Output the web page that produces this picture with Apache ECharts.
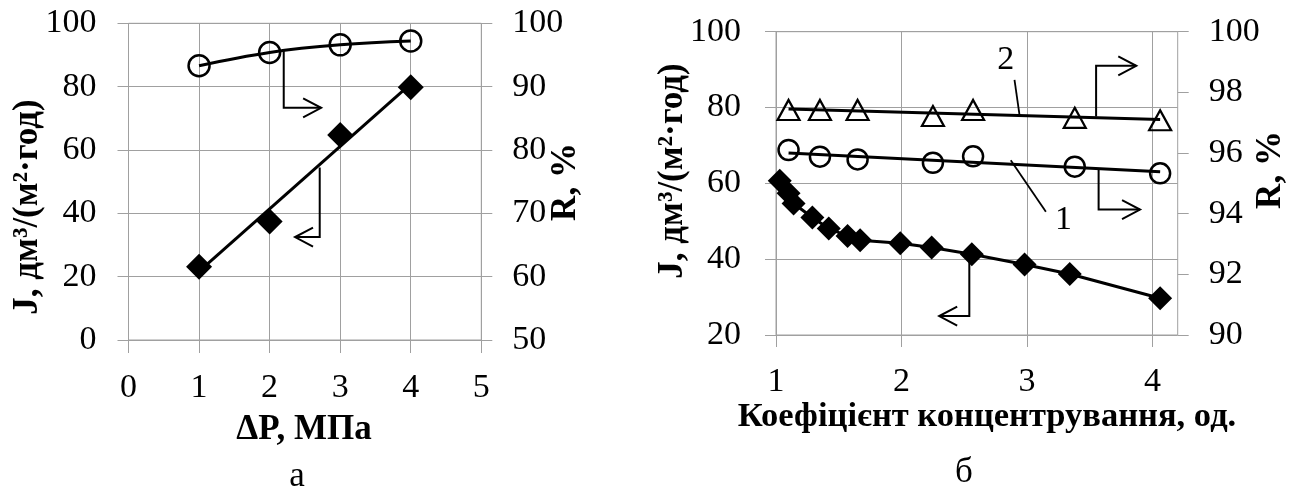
<!DOCTYPE html>
<html>
<head>
<meta charset="utf-8">
<script src="https://cdn.jsdelivr.net/npm/echarts@6/dist/echarts.min.js"></script>
<style>
html,body{margin:0;padding:0;background:#fff;}
#chart{width:1303px;height:488px;}
</style>
</head>
<body>
<div id="chart"></div>
<script>
// ---- data ----
// chart "а": J and R vs ΔP
const dpValues = [1, 2, 3, 4];
const fluxA = [23.1, 37.4, 64.7, 79.8];
const rejA = [93.3, 95.4, 96.6, 97.2];

// chart "б": J vs concentration factor
const kFlux = [1.03, 1.10, 1.14, 1.29, 1.42, 1.57, 1.67, 1.99, 2.24, 2.56, 2.98, 3.34, 4.06];
const fluxB = [60.7, 57.4, 54.7, 51.0, 48.1, 46.1, 45.0, 44.2, 43.1, 41.3, 38.6, 36.1, 29.7];
// R curves 1 (circles) and 2 (triangles)
const kRej = [1.10, 1.35, 1.65, 2.25, 2.57, 3.38, 4.06];
const rej1 = [96.10, 95.88, 95.79, 95.68, 95.89, 95.55, 95.33];
const rej2 = [97.42, 97.42, 97.42, 97.22, 97.42, 97.16, 97.08];

// tick settings
const xTicksB = [1, 2, 3, 4];

// ---- helpers ----
function zip(xs, ys){ return xs.map((x,i)=>[x, ys[i]]); }
function linTrend(xs, ys){
  const n = xs.length;
  const mx = xs.reduce((a,b)=>a+b,0)/n, my = ys.reduce((a,b)=>a+b,0)/n;
  let sxy=0, sxx=0;
  for(let i=0;i<n;i++){ sxy += (xs[i]-mx)*(ys[i]-my); sxx += (xs[i]-mx)*(xs[i]-mx); }
  const b = sxy/sxx, a = my - b*mx;
  const x0 = Math.min(...xs), x1 = Math.max(...xs);
  return [[x0, a+b*x0],[x1, a+b*x1]];
}

const FONT = '"Liberation Serif", "Times New Roman", serif';
const GRID_C = '#a0a0a0';
const TICK_FS = 34;
const TITLE_FS = 35;

const chart = echarts.init(document.getElementById('chart'));

const axisCommon = {
  axisLine: {show:false},
  axisTick: {show:true, inside:false, length:11, lineStyle:{color:GRID_C, width:1}},
  axisLabel: {fontFamily:FONT, fontSize:TICK_FS, color:'#000'},
};

const openCircle = {color:'rgba(0,0,0,0)', borderColor:'#000', borderWidth:2.5, opacity:1};

const option = {
  animation:false,
  backgroundColor:'#fff',
  grid:[
    {left:128.5, top:23.3, width:352.8, height:316.7, show:true, borderColor:GRID_C, borderWidth:1, containLabel:false},
    {left:776, top:31.7, width:401.7, height:303.3, show:true, borderColor:GRID_C, borderWidth:1, containLabel:false}
  ],
  xAxis:[
    Object.assign({}, axisCommon, {type:'value', gridIndex:0, min:0, max:5, interval:1,
      axisTick:{show:true, length:13, lineStyle:{color:GRID_C}},
      axisLabel:{fontFamily:FONT, fontSize:TICK_FS, color:'#000', margin:31},
      splitLine:{show:true, lineStyle:{color:GRID_C, width:1}}}),
    Object.assign({}, axisCommon, {type:'value', gridIndex:1, min:1, max:4.2, interval:1,
      axisTick:{show:true, length:12, customValues:xTicksB, lineStyle:{color:GRID_C}},
      axisLabel:{fontFamily:FONT, fontSize:TICK_FS, color:'#000', margin:30, customValues:xTicksB,
        formatter:v=> (Math.abs(v-Math.round(v))<1e-9 ? String(v) : '')},
      splitLine:{show:true, lineStyle:{color:GRID_C, width:1}}})
  ],
  yAxis:[
    Object.assign({}, axisCommon, {type:'value', gridIndex:0, position:'left', min:0, max:100, interval:20,
      axisLabel:{fontFamily:FONT, fontSize:TICK_FS, color:'#000', margin:32},
      splitLine:{show:true, lineStyle:{color:GRID_C, width:1}}}),
    Object.assign({}, axisCommon, {type:'value', gridIndex:0, position:'right', min:50, max:100, interval:10,
      axisLabel:{fontFamily:FONT, fontSize:TICK_FS, color:'#000', margin:31},
      splitLine:{show:false}}),
    Object.assign({}, axisCommon, {type:'value', gridIndex:1, position:'left', min:20, max:100, interval:20,
      axisLabel:{fontFamily:FONT, fontSize:TICK_FS, color:'#000', margin:35},
      splitLine:{show:true, lineStyle:{color:GRID_C, width:1}}}),
    Object.assign({}, axisCommon, {type:'value', gridIndex:1, position:'right', min:90, max:100, interval:2,
      axisLabel:{fontFamily:FONT, fontSize:TICK_FS, color:'#000', margin:31},
      splitLine:{show:false}})
  ],
  series:[
    // chart а
    {type:'line', xAxisIndex:0, yAxisIndex:0, data:linTrend(dpValues, fluxA), symbol:'none',
      lineStyle:{color:'#000', width:3}, z:2, silent:true},
    {type:'scatter', xAxisIndex:0, yAxisIndex:0, data:zip(dpValues, fluxA), symbol:'diamond', symbolSize:[26,26],
      itemStyle:{color:'#000', opacity:1}, z:3},
    {type:'line', xAxisIndex:0, yAxisIndex:1, data:zip(dpValues, rejA), smooth:0.4, symbol:'circle', symbolSize:21,
      showSymbol:true, itemStyle:openCircle, lineStyle:{color:'#000', width:3}, z:3},
    // chart б
    {type:'line', xAxisIndex:1, yAxisIndex:2, data:zip(kFlux, fluxB), symbol:'diamond', symbolSize:[24,24],
      showSymbol:true, itemStyle:{color:'#000', opacity:1}, lineStyle:{color:'#000', width:3}, z:3},
    {type:'line', xAxisIndex:1, yAxisIndex:3, data:linTrend(kRej, rej1), symbol:'none',
      lineStyle:{color:'#000', width:3}, z:2, silent:true},
    {type:'scatter', xAxisIndex:1, yAxisIndex:3, data:zip(kRej, rej1), symbol:'circle', symbolSize:20,
      itemStyle:openCircle, z:3},
    {type:'line', xAxisIndex:1, yAxisIndex:3, data:linTrend(kRej, rej2), symbol:'none',
      lineStyle:{color:'#000', width:3}, z:2, silent:true},
    {type:'scatter', xAxisIndex:1, yAxisIndex:3, data:zip(kRej, rej2), symbol:'triangle', symbolSize:[22,20],
      itemStyle:{color:'rgba(0,0,0,0)', borderColor:'#000', borderWidth:2.2, opacity:1}, z:3}
  ]
};
chart.setOption(option);

// ---- annotations (paths in data coordinates of each chart) ----
const A = {xAxisIndex:0, yAxisIndex:0};
const B = {xAxisIndex:1, yAxisIndex:2};
const arrows = [
  {c:A, path:[[2.2, 91.6],[2.2, 73.3],[2.73, 73.3]]},
  {c:A, path:[[2.71, 54.5],[2.71, 32.5],[2.36, 32.5]]},
  {c:B, path:[[3.55, 77.6],[3.55, 91.0],[3.87, 91.0]]},
  {c:B, path:[[3.57, 64.0],[3.57, 53.1],[3.90, 53.1]]},
  {c:B, path:[[2.54, 41.1],[2.54, 25.0],[2.30, 25.0]]}
];
const leaders = [
  {c:B, path:[[2.90, 87.3],[2.94, 78.0]]},
  {c:B, path:[[2.87, 66.1],[3.15, 52.5]]}
];
const curveLabels = [
  {c:B, pos:[2.83, 92.5], text:'2'},
  {c:B, pos:[3.29, 50.3], text:'1'}
];
const titles = [
  {text:'J, дм³/(м²·год)', x:28, y:207, rot:true, bold:true},
  {text:'R, %', x:566, y:182, rot:true, bold:true},
  {text:'J, дм³/(м²·год)', x:673, y:171, rot:true, bold:true},
  {text:'R, %', x:1271, y:170, rot:true, bold:true},
  {text:'ΔP, МПа', x:304, y:430, rot:false, bold:true},
  {text:'Коефіцієнт концентрування, од.', x:987, y:417, rot:false, bold:true, size:34.5},
  {text:'а', x:297, y:477, rot:false, bold:false, size:35},
  {text:'б', x:964, y:473, rot:false, bold:false, size:35}
];

const g = [];
function px(c, p){ return chart.convertToPixel(c, p); }
arrows.forEach(a=>{
  const pts = a.path.map(p=>px(a.c, p));
  g.push({type:'polyline', shape:{points:pts}, style:{stroke:'#000', lineWidth:2, fill:null}, z:10});
  const e = pts[pts.length-1], s = pts[pts.length-2];
  const dx = e[0]-s[0], dy = e[1]-s[1], L = Math.hypot(dx,dy);
  const ux = dx/L, uy = dy/L, nx = -uy, ny = ux;
  const len = 18, w = 9.5;
  g.push({type:'polyline', shape:{points:[
    [e[0]-len*ux+w*nx, e[1]-len*uy+w*ny], e, [e[0]-len*ux-w*nx, e[1]-len*uy-w*ny]
  ]}, style:{stroke:'#000', lineWidth:2, fill:null}, z:10});
});
leaders.forEach(l=>{
  const pts = l.path.map(p=>px(l.c, p));
  g.push({type:'polyline', shape:{points:pts}, style:{stroke:'#000', lineWidth:1.8, fill:null}, z:10});
});
curveLabels.forEach(l=>{
  const p = px(l.c, l.pos);
  g.push({type:'text', x:p[0], y:p[1], style:{text:l.text, font:'34px '+FONT, fill:'#000',
    textAlign:'center', textVerticalAlign:'middle'}, z:10});
});
titles.forEach(t=>{
  g.push({type:'text', x:t.x, y:t.y, rotation: t.rot ? Math.PI/2 : 0,
    style:{text:t.text, font:(t.bold?'bold ':'')+(t.size||TITLE_FS)+'px '+FONT, fill:'#000',
      textAlign:'center', textVerticalAlign:'middle'}, z:10});
});
chart.setOption({graphic:g});
</script>
</body>
</html>
